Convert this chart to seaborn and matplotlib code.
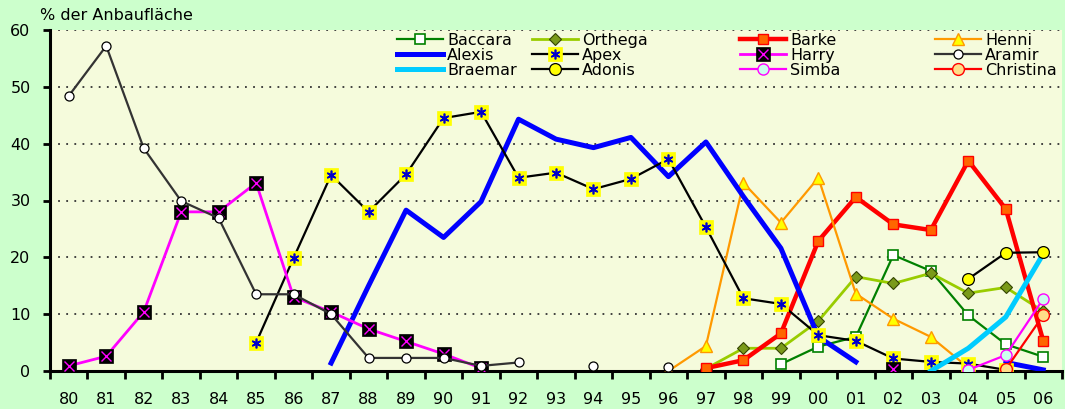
import numpy as np
import pandas as pd
import matplotlib
matplotlib.use("Agg")
import matplotlib.pyplot as plt
from matplotlib.lines import Line2D
from matplotlib.legend_handler import HandlerTuple
import seaborn as sns

# ---------------- data ----------------
years = ["80", "81", "82", "83", "84", "85", "86", "87", "88", "89", "90", "91", "92",
         "93", "94", "95", "96", "97", "98", "99", "00", "01", "02", "03", "04", "05", "06"]
N = None
baccara   = [N]*19 + [1.2, 4.3, 6.0, 20.4, 17.6, 9.8, 4.7, 2.5]
orthega   = [N]*17 + [0.4, 4.0, 4.0, 8.8, 16.6, 15.4, 17.2, 13.7, 14.7, 10.5]
barke     = [N]*17 + [0.5, 1.9, 6.6, 22.9, 30.6, 25.8, 24.8, 37.0, 28.5, 5.3]
henni     = [N]*16 + [0.0, 4.4, 33.1, 26.1, 34.0, 13.6, 9.2, 6.0, 0.6]
alexis    = [N]*7 + [1.4, 15.0, 28.3, 23.5, 29.8, 44.3, 40.8, 39.3, 41.1, 34.2, 40.3,
                     30.7, 21.6, 6.0, 1.6, N, N, N, 1.5, 0.2]
apex      = [N]*5 + [5.0, 19.9, 34.5, 28.0, 34.6, 44.5, 45.6, 34.0, 34.9, 32.0, 33.8,
                     37.3, 25.3, 12.8, 11.8, 6.3, 5.3, 2.2, 1.6, 1.3, 0.2]
harry     = [0.9, 2.6, 10.4, 28.0, 28.0, 33.1, 13.0, 10.4, 7.4, 5.2, 3.0, 0.5,
             N, N, N, N, N, N, N, N, N, N, 0.4]
aramir    = [48.4, 57.2, 39.2, 29.9, 26.9, 13.5, 13.5, 10.0, 2.3, 2.3, 2.3, 0.9, 1.5,
             N, 0.9, N, 0.7]
braemar   = [N]*23 + [0.0, 4.0, 9.5, 20.6]
adonis    = [N]*24 + [16.2, 20.8, 20.9]
simba     = [N]*24 + [0.2, 2.8, 12.7]
christina = [N]*25 + [0.3, 9.8]

def full(v):
    return list(v) + [None] * (len(years) - len(v))

# ---------------- style ----------------
W, H = 1065, 409
fig = plt.figure(figsize=(W / 100, H / 100), dpi=100, facecolor="#CCFFCC")
plt.rcParams["font.family"] = ["DejaVu Sans"]
FS = 11.5
ax = fig.add_axes([50 / W, 1 - 371 / H, (1062 - 50) / W, (371 - 30) / H])
ax.set_facecolor("#F5FBDC")

def segments(vals):
    vals = full(vals)
    segs, cur = [], []
    for i, v in enumerate(vals):
        if v is None:
            if cur:
                segs.append(cur)
            cur = []
        else:
            cur.append((i, v))
    if cur:
        segs.append(cur)
    return segs

def draw(vals, z, **kw):
    for seg in segments(vals):
        df = pd.DataFrame(seg, columns=["x", "y"])
        sns.lineplot(data=df, x="x", y="y", ax=ax, legend=False, zorder=z, **kw)

styles = {
    "Baccara":   dict(color="#008000", lw=1.6, marker="s", ms=7, mfc="white", mec="#008000", mew=1.2),
    "Orthega":   dict(color="#99CC00", lw=2.0, marker="D", ms=6.5, mfc="#7A9A1A", mec="#334400", mew=0.8),
    "Barke":     dict(color="#FF0000", lw=3.2, marker="s", ms=6.5, mfc="#FF6600", mec="#FF0000", mew=1.0),
    "Henni":     dict(color="#FF9900", lw=1.6, marker="^", ms=8, mfc="#FFFF00", mec="#FF9900", mew=1.0),
    "Alexis":    dict(color="#0000FF", lw=3.6),
    "Apex":      dict(color="#000000", lw=1.6, marker="s", ms=10, mfc="#FFFF00", mec="#FFFF00", mew=0.5),
    "Harry":     dict(color="#FF00FF", lw=2.0, marker="s", ms=9.5, mfc="#000000", mec="#000000", mew=0.5),
    "Aramir":    dict(color="#333333", lw=1.6, marker="o", ms=6.5, mfc="white", mec="#000000", mew=0.9),
    "Braemar":   dict(color="#00CCFF", lw=3.6),
    "Adonis":    dict(color="#000000", lw=1.6, marker="o", ms=8.5, mfc="#FFFF00", mec="#000000", mew=0.9),
    "Simba":     dict(color="#FF00FF", lw=1.6, marker="o", ms=8, mfc="#CCFFEE", mec="#FF00FF", mew=1.0),
    "Christina": dict(color="#FF0000", lw=1.6, marker="o", ms=8.5, mfc="#FFDD88", mec="#FF0000", mew=1.0),
}
overlay = {
    "Apex":  dict(color="#0000CC", ls="none", marker=(6, 2, 0), ms=7, mec="#0000CC", mew=1.2),
    "Harry": dict(color="#FF00FF", ls="none", marker="x", ms=6.5, mec="#FF00FF", mew=1.0),
}
series = [("Baccara", baccara), ("Orthega", orthega), ("Barke", barke), ("Henni", henni),
          ("Alexis", alexis), ("Apex", apex), ("Harry", harry), ("Aramir", aramir),
          ("Braemar", braemar), ("Adonis", adonis), ("Simba", simba), ("Christina", christina)]

for k, (name, vals) in enumerate(series):
    draw(vals, 3 + k, **styles[name])
    if name in overlay:
        draw(vals, 3 + k + 0.5, **overlay[name])

# ---------------- axes ----------------
ax.set_xlim(-0.45, 26.35)
ax.set_ylim(0, 60)
ax.set_xlabel("")
ax.set_ylabel("")
ax.set_xticks(range(len(years)))
ax.set_xticklabels(years, fontsize=FS)
ax.set_xticks(np.arange(-0.5, 26.6, 1.0), minor=True)
ax.tick_params(axis="x", which="major", length=0, pad=15)
ax.tick_params(axis="x", which="minor", length=6, width=2, direction="out", color="black")
ax.set_yticks(range(0, 61, 10))
ax.set_yticklabels([str(v) for v in range(0, 61, 10)], fontsize=FS)
ax.tick_params(axis="y", length=5, width=2, direction="out", pad=9)
for y in range(10, 61, 10):
    ax.axhline(y, color="#333333", lw=1.3, ls=(0, (1, 3.5)), zorder=1)
for s in ["top", "right"]:
    ax.spines[s].set_visible(False)
for s in ["left", "bottom"]:
    ax.spines[s].set_linewidth(2.2)
    ax.spines[s].set_color("black")
    ax.spines[s].set_zorder(20)
ax.spines["bottom"].set_zorder(2)

fig.text(40 / W, 1 - 16 / H, "% der Anbaufläche", fontsize=FS, ha="left", va="center")

# ---------------- legend ----------------
def handle(name):
    h = Line2D([], [], **styles[name])
    if name in overlay:
        return (h, Line2D([], [], **overlay[name]))
    return h

cols = [["Baccara", "Alexis", "Braemar"], ["Orthega", "Apex", "Adonis"],
        ["Barke", "Harry", "Simba"], ["Henni", "Aramir", "Christina"]]
col_x = [397, 532, 740, 935]
for cx, names in zip(col_x, cols):
    fig.legend([handle(n) for n in names], names, loc="upper left",
               bbox_to_anchor=(cx / W, 1 - 33 / H), bbox_transform=fig.transFigure,
               frameon=False, fontsize=FS, borderpad=0, borderaxespad=0,
               handlelength=2.9, handletextpad=0.25, labelspacing=0.0,
               numpoints=1, handler_map={tuple: HandlerTuple(ndivide=1, pad=0)})

fig.savefig("out.png", dpi=100, facecolor=fig.get_facecolor())
